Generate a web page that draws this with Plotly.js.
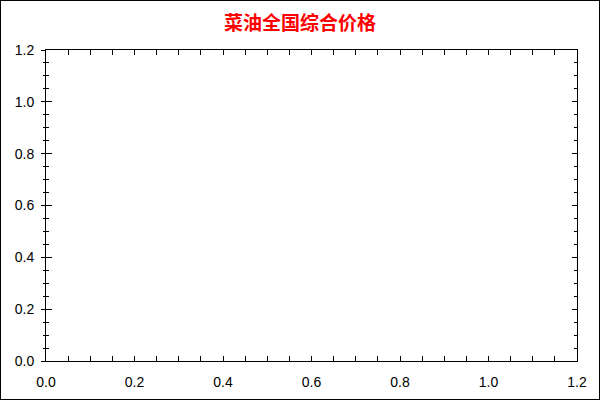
<!DOCTYPE html>
<html>
<head>
<meta charset="utf-8">
<script src="https://cdn.plot.ly/plotly-3.0.1.min.js"></script>
<style>
  html, body { margin: 0; padding: 0; background: #fff; }
  #chart { width: 598px; height: 398px; border: 1px solid #000; }
</style>
</head>
<body>
<div id="chart"></div>
<script>
// chart has no series drawn, only the empty frame
const titleText = '菜油全国综合价格';
const priceDates = [];
const priceValues = [];
const axisRange = [0, 1.2];

const tickFont = { family: 'Liberation Sans, Arial, sans-serif', size: 14, color: '#000' };

const baseAxis = {
    range: axisRange,
    dtick: 0.2,
    tickformat: '.1f',
    showgrid: false,
    zeroline: false,
    showline: true,
    linecolor: '#000',
    linewidth: 1,
    tickcolor: '#000',
    ticklen: 5,
    tickfont: tickFont,
    fixedrange: true,
    minor: { dtick: 0.05, ticks: 'inside', ticklen: 3, tickcolor: '#000' }
};

const traces = [{
    type: 'scatter',
    mode: 'lines',
    x: priceDates,
    y: priceValues,
    line: { color: '#000', width: 1 },
    showlegend: false
}];

const layout = {
    title: {
        text: titleText,
        font: { family: 'Noto Sans CJK SC, sans-serif', size: 19, color: '#ff0000', weight: 'bold' },
        x: 0.5,
        xanchor: 'center',
        y: 0.945,
        yanchor: 'middle'
    },
    xaxis: Object.assign({}, baseAxis, { ticks: 'inside', mirror: 'allticks', ticklen: 5,
        ticklabelstandoff: 8 }),
    yaxis: Object.assign({}, baseAxis, { ticks: 'outside', ticklen: 4, mirror: true,
        ticklabelstandoff: 4,
        minor: { dtick: 0.05, ticks: 'outside', ticklen: 2, tickcolor: '#000' } }),
    yaxis2: Object.assign({}, baseAxis, { overlaying: 'y', side: 'left', anchor: 'x',
        ticks: 'inside', ticklen: 6, showticklabels: false, showline: false }),
    yaxis3: Object.assign({}, baseAxis, { overlaying: 'y', side: 'right', anchor: 'x',
        ticks: 'inside', ticklen: 5, showticklabels: false, showline: false }),
    plot_bgcolor: '#fff',
    paper_bgcolor: '#fff',
    showlegend: false,
    margin: { l: 45, r: 22, t: 49, b: 38 },
    width: 598,
    height: 398
};

// dummy empty traces so the overlaid axes get drawn
traces.push({ type: 'scatter', x: [], y: [], yaxis: 'y2', showlegend: false });
traces.push({ type: 'scatter', x: [], y: [], yaxis: 'y3', showlegend: false });

Plotly.newPlot('chart', traces, layout, { displayModeBar: false, staticPlot: true });
</script>
</body>
</html>
